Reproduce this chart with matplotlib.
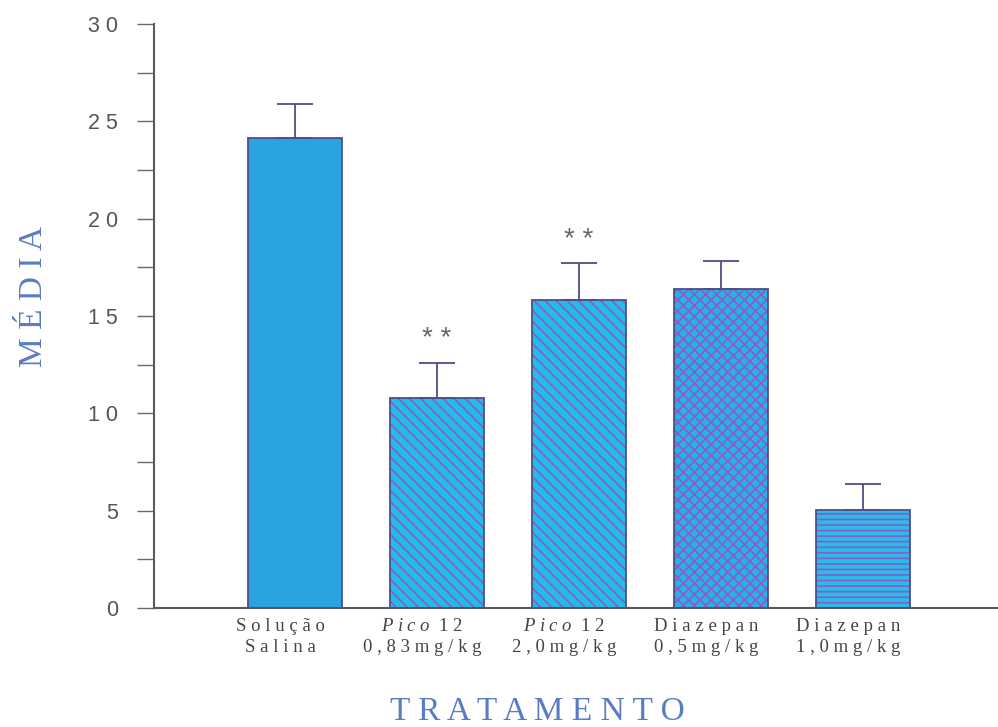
import matplotlib
matplotlib.use("Agg")
import matplotlib.pyplot as plt
from matplotlib.ticker import MultipleLocator, FuncFormatter
from matplotlib.transforms import ScaledTranslation

# Data
categories = ["Solução\nSalina", "Pico 12\n0,83mg/kg", "Pico 12\n2,0mg/kg",
              "Diazepan\n0,5mg/kg", "Diazepan\n1,0mg/kg"]
means = [24.15, 10.8, 15.8, 16.4, 5.05]
errors = [1.75, 1.8, 1.9, 1.4, 1.3]
signif = ["", "**", "**", "", ""]

hatches = ["", "\\\\\\", "\\\\\\", "xxx", "---"]
fills = ["#2aa3e2", "#22bce8", "#22bce8", "#23b4e6", "#26bde8"]
hatch_col = "#9158c8"
edge_col = "#4d4f86"
text_gray = "#555555"
label_blue = "#5b7cc4"

plt.rcParams["hatch.linewidth"] = 1.2
plt.rcParams["mathtext.fontset"] = "custom"
plt.rcParams["mathtext.it"] = "Liberation Serif:italic"
plt.rcParams["mathtext.rm"] = "Liberation Serif"

fig = plt.figure(figsize=(9.98, 7.27), dpi=100)
ax = fig.add_axes([154 / 998, 119 / 727, 844 / 998, 584 / 727])

x = list(range(len(means)))
width = 0.66

# fill + hatch layer
for xi, m, h, fc in zip(x, means, hatches, fills):
    ax.bar(xi, m, width=width, color=fc, edgecolor=hatch_col if h else fc,
           linewidth=0, hatch=h, zorder=2)
# outline layer
ax.bar(x, means, width=width, fill=False, edgecolor=edge_col, linewidth=1.3, zorder=3)

# upper error bars
ax.errorbar(x, means, yerr=[[0] * len(errors), errors], fmt="none",
            ecolor=edge_col, elinewidth=1.3, capsize=13, capthick=1.3, zorder=4)

for xi, m, e, s in zip(x, means, errors, signif):
    if s:
        ax.text(xi, m + e + 1.2, " ".join(s), ha="center", va="center",
                fontsize=20, color="#666666", family="Liberation Sans")

ax.set_xlim(-0.993, 4.95)
ax.set_ylim(0, 30)

for side in ("top", "right"):
    ax.spines[side].set_visible(False)
ax.spines["left"].set_color("#5a5a5a")
ax.spines["bottom"].set_color("#5a5a5a")
ax.spines["left"].set_linewidth(1.5)
ax.spines["bottom"].set_linewidth(1.5)

ax.yaxis.set_major_locator(MultipleLocator(5))
ax.yaxis.set_minor_locator(MultipleLocator(2.5))
ax.tick_params(axis="y", which="both", length=12, width=1.0, color="#6a6a6a",
               direction="out", pad=14)
ax.yaxis.set_major_formatter(FuncFormatter(lambda v, p: " ".join(str(int(v)))))
for lab in ax.get_yticklabels():
    lab.set_family("Liberation Sans")
    lab.set_fontsize(15.5)
    lab.set_color(text_gray)


def spaced(s):
    return " ".join(s)


def cat_label(c):
    top, bottom = c.split("\n")
    if top.startswith("Pico"):
        top = r"$\it{P\ i\ c\ o}$" + "  " + spaced(top.split(" ")[1])
    else:
        top = spaced(top)
    return top + "\n" + spaced(bottom)


ax.set_xticks(x)
ax.set_xticklabels([cat_label(c) for c in categories], family="Liberation Serif",
                   fontsize=13.5, color="#444444", linespacing=1.3)
ax.tick_params(axis="x", length=0, pad=7)
shift = ScaledTranslation(-15 / 100, 0, fig.dpi_scale_trans)
for lab in ax.get_xticklabels():
    lab.set_transform(lab.get_transform() + shift)

fig.text(34 / 998, 1 - 296 / 727, "M É D I A", rotation=90,
         family="Liberation Serif", fontsize=24, color=label_blue,
         ha="center", va="center")
fig.text(537 / 998, 1 - 720 / 727, "T R A T A M E N T O",
         family="Liberation Serif", fontsize=24, color=label_blue,
         ha="center", va="baseline")

fig.savefig("out.png", dpi=100)
